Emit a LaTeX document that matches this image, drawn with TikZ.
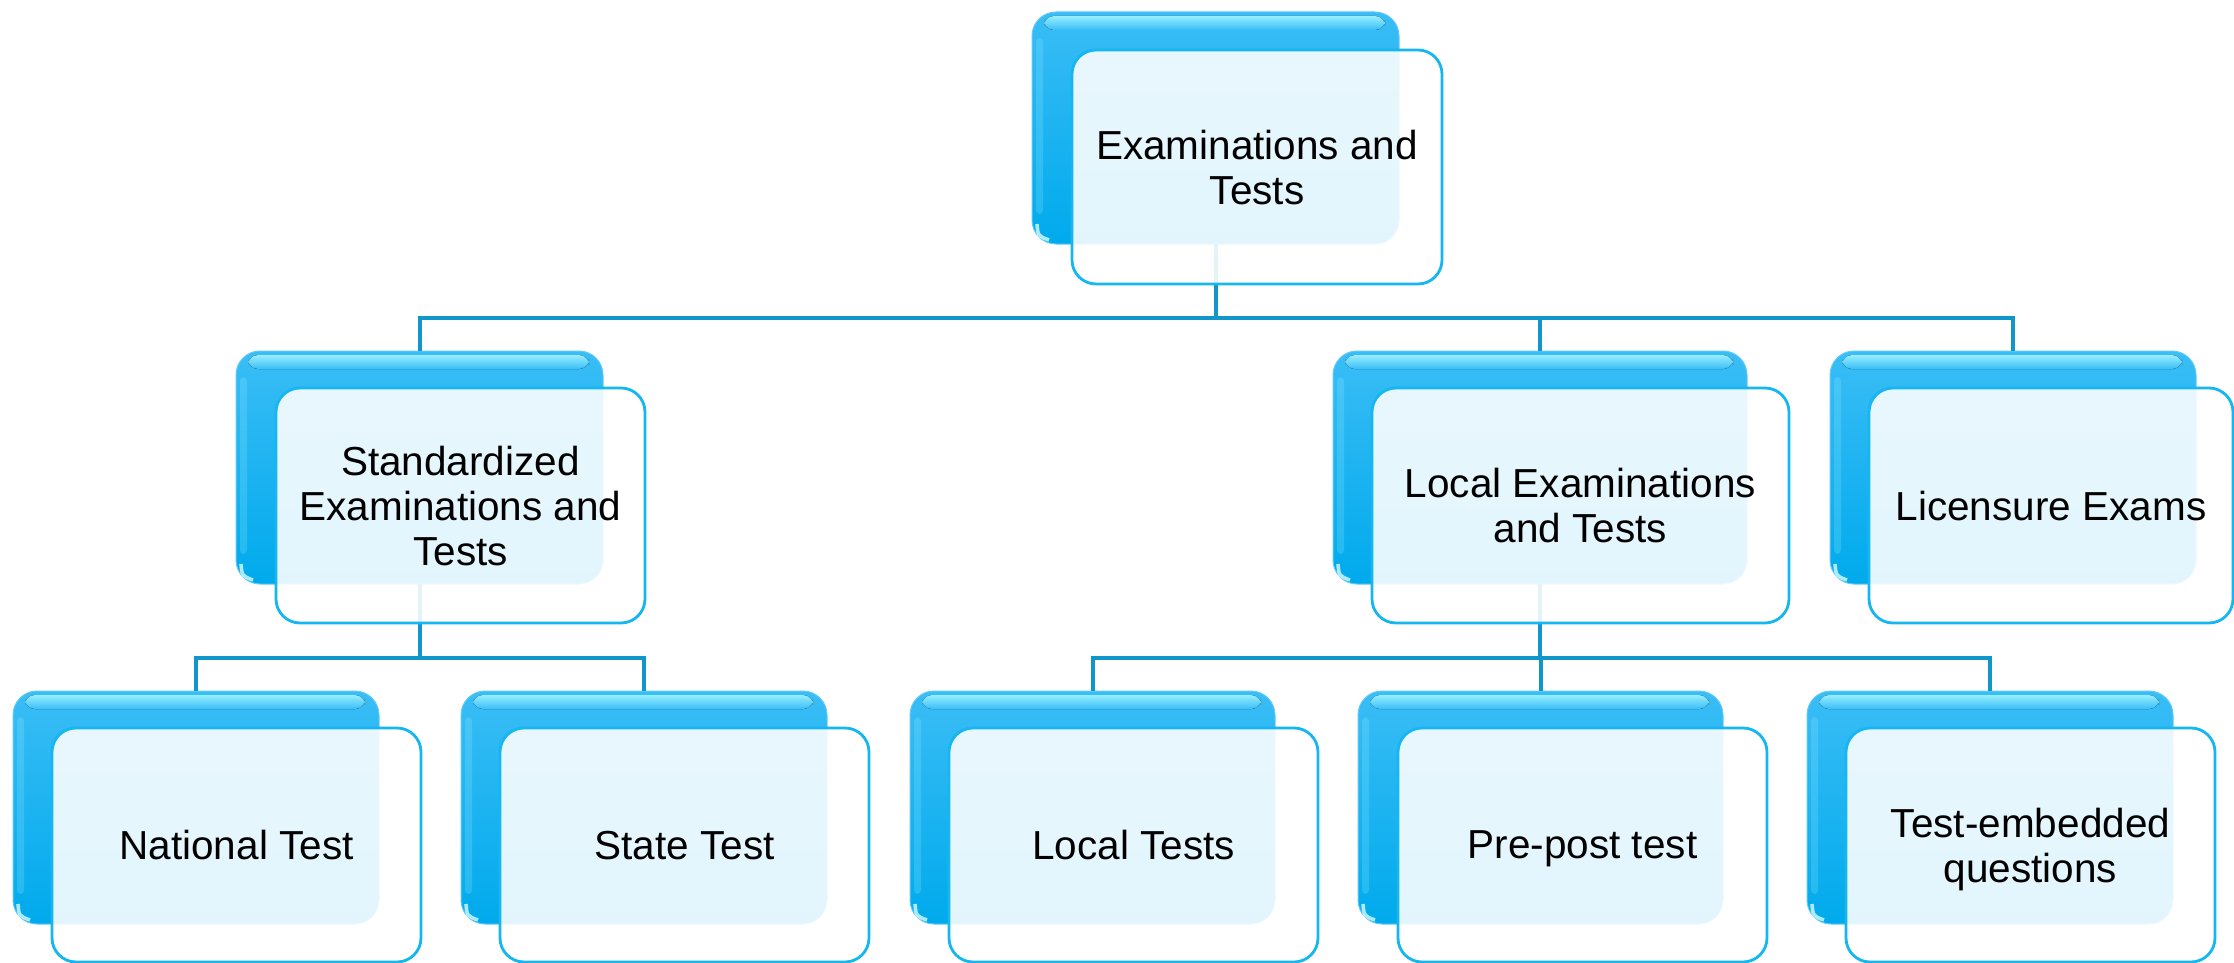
\documentclass[tikz,border=0pt]{standalone}
\usepackage{fontspec}
\setmainfont{Liberation Sans}
\usetikzlibrary{calc}
\definecolor{boxtop}{RGB}{58,189,246}
\definecolor{boxbot}{RGB}{0,170,236}
\definecolor{glosscol}{RGB}{150,238,255}
\definecolor{frontline}{RGB}{22,182,240}
\definecolor{linkcol}{RGB}{16,150,200}
\tikzset{
  backbox/.style={rectangle, rounded corners=12pt, inner sep=0pt, outer sep=0pt,
    top color=boxtop, bottom color=boxbot, draw=boxtop!80!white, line width=0.5pt},
  frontbox/.style={rectangle, rounded corners=12pt, inner sep=0pt, outer sep=0pt,
    fill=white, fill opacity=0.89, text opacity=1, draw=frontline, line width=1.4pt,
    align=center, text depth=0pt, font=\fontsize{20.25pt}{22.5pt}\selectfont, text=black},
  link/.style={draw=linkcol, line width=2pt},
  gloss/.style={top color=glosscol, bottom color=boxtop, rounded corners=5pt},
}
\newcommand\backcard[5]{%
  \node[backbox, minimum width={0.5pt*#4}, minimum height={0.5pt*#5}] (#1-b) at ({#2+#4/2},{#3+#5/2}) {};
  \fill[gloss] ($(#1-b.north west)+(12,4)$) rectangle ($(#1-b.north east)+(-14,18)$);
  \fill[glosscol, fill opacity=0.22, rounded corners=2pt] ($(#1-b.north west)+(4,26)$) rectangle ($(#1-b.south west)+(11,-30)$);
  \draw[white!50!glosscol, line width=1.8pt, opacity=0.85] ($(#1-b.south west)+(5,-20)$) .. controls ($(#1-b.south west)+(6,-8)$) .. ($(#1-b.south west)+(17,-4)$);
}
\newcommand\frontcard[6]{%
  \node[frontbox, minimum width={0.5pt*#4}, minimum height={0.5pt*#5}] (#1) at ({#2+#4/2},{#3+#5/2}) {#6};
}
\begin{document}
\begin{tikzpicture}[x=0.5pt, y=-0.5pt]
\useasboundingbox (0,0) rectangle (2234,963);
% back cards
\backcard{top}{1032}{12}{367}{232}
\backcard{std}{236}{351}{367}{233}
\backcard{locex}{1333}{351}{414}{233}
\backcard{lic}{1830}{351}{366}{233}
\backcard{nat}{13}{691}{366}{233}
\backcard{state}{461}{691}{366}{233}
\backcard{loct}{910}{691}{365}{233}
\backcard{prep}{1358}{691}{365}{233}
\backcard{teq}{1807}{691}{366}{233}
% connectors
\coordinate (bus1) at (0,318);
\coordinate (bus2) at (0,658);
\draw[link] (top-b.south) |- (bus1 -| std-b.north) -- (std-b.north);
\draw[link] (top-b.south) |- (bus1 -| locex-b.north) -- (locex-b.north);
\draw[link] (top-b.south) |- (bus1 -| lic-b.north) -- (lic-b.north);
\draw[link] (std-b.south) |- (bus2 -| nat-b.north) -- (nat-b.north);
\draw[link] (std-b.south) |- (bus2 -| state-b.north) -- (state-b.north);
\draw[link] (locex-b.south) |- (bus2 -| loct-b.north) -- (loct-b.north);
\draw[link] (locex-b.south) |- (bus2 -| prep-b.north) -- (prep-b.north);
\draw[link] (locex-b.south) |- (bus2 -| teq-b.north) -- (teq-b.north);
% front cards
\frontcard{top}{1072}{50}{370}{234}{Examinations and\\Tests}
\frontcard{std}{276}{388}{369}{235}{Standardized\\Examinations and\\Tests}
\frontcard{locex}{1372}{388}{417}{235}{Local Examinations\\and Tests}
\frontcard{lic}{1869}{388}{364}{235}{Licensure Exams}
\frontcard{nat}{52}{728}{369}{234}{National Test}
\frontcard{state}{500}{728}{369}{234}{State Test}
\frontcard{loct}{949}{728}{369}{234}{Local Tests}
\frontcard{prep}{1398}{728}{369}{234}{Pre-post test}
\frontcard{teq}{1846}{728}{369}{234}{Test-embedded\\questions}
\end{tikzpicture}
\end{document}
